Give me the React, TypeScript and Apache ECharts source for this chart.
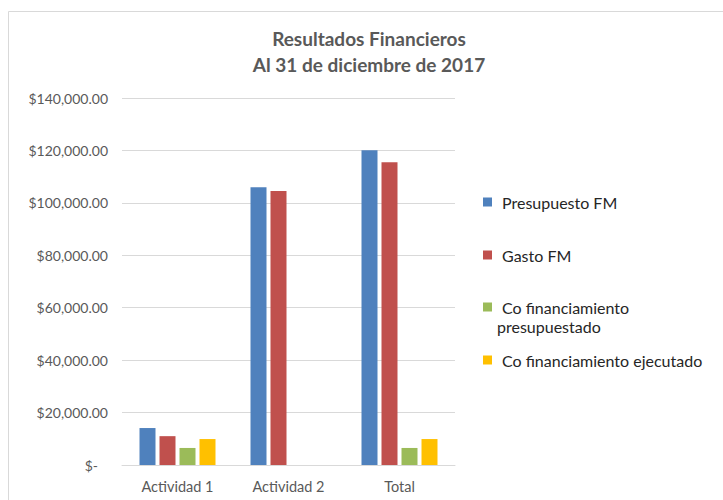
import React, { useEffect, useRef } from "react";
import * as echarts from "echarts";

const categories = ["Actividad 1", "Actividad 2", "Total"];
const seriesNames = [
  "Presupuesto FM",
  "Gasto FM",
  "Co financiamiento presupuestado",
  "Co financiamiento ejecutado",
];
const presupuestoFM = [14100, 106000, 120100];
const gastoFM = [11000, 104500, 115500];
const coPresupuestado = [6500, 0, 6500];
const coEjecutado = [9900, 0, 9900];
const colors = ["#4F81BD", "#C0504D", "#9BBB59", "#FFC000"];

const FONT = "Lato, 'Open Sans', sans-serif";

export default function App() {
  const ref = useRef<HTMLDivElement>(null);
  useEffect(() => {
    if (!ref.current) return;
    const chart = echarts.init(ref.current, undefined, { renderer: "svg" });
    const values = [presupuestoFM, gastoFM, coPresupuestado, coEjecutado];
    const legendCenters = [202, 255, 307, 360];
    const legends = seriesNames.map((n, i) => ({
      data: [n],
      orient: "vertical",
      left: 483,
      top: legendCenters[i] - 10.5,
      padding: 0,
      itemWidth: 9,
      itemHeight: 9,
      icon: "rect",
      selectedMode: false,
      formatter: (name: string) =>
        name === "Co financiamiento presupuestado" ? "Co financiamiento" : name,
      textStyle: {
        fontFamily: FONT,
        fontSize: 16,
        color: "#262626",
        lineHeight: 21,
        padding: [0, 0, 0, 5],
      },
    }));
    chart.setOption({
      animation: false,
      color: colors,
      title: {
        text: "Resultados Financieros\nAl 31 de diciembre de 2017",
        left: 369,
        top: 25,
        padding: 0,
        textAlign: "center",
        textStyle: {
          fontFamily: FONT,
          fontSize: 19,
          fontWeight: "bold",
          color: "#595959",
          lineHeight: 26,
        },
      },
      graphic: [
        {
          type: "rect",
          shape: { x: 8.5, y: 11.5, width: 800, height: 600 },
          style: { fill: "none", stroke: "#d9d9d9", lineWidth: 1 },
          silent: true,
        },
        {
          type: "text",
          left: 497,
          top: 318,
          silent: true,
          style: {
            text: "presupuestado",
            fontFamily: FONT,
            fontSize: 16,
            fill: "#262626",
          },
        },
      ],
      legend: legends,
      grid: { left: 122, right: 268, top: 98, bottom: 35, containLabel: false },
      xAxis: {
        type: "category",
        data: categories,
        axisLine: { lineStyle: { color: "#d9d9d9", width: 1 } },
        axisTick: { show: false },
        axisLabel: {
          fontFamily: FONT,
          fontSize: 14.5,
          color: "#595959",
          margin: 14,
        },
      },
      yAxis: {
        type: "value",
        min: 0,
        max: 140000,
        interval: 20000,
        axisLine: { show: false },
        axisTick: { show: false },
        splitLine: { lineStyle: { color: "#d9d9d9", width: 1 } },
        axisLabel: {
          margin: 14,
          fontFamily: FONT,
          fontSize: 14,
          color: "#595959",
          formatter: (v: number) =>
            v === 0
              ? "{z|$-}"
              : "$" +
                v.toLocaleString("en-US", {
                  minimumFractionDigits: 2,
                  maximumFractionDigits: 2,
                }),
          rich: {
            z: {
              fontFamily: FONT,
              fontSize: 14,
              color: "#595959",
              padding: [0, 10, 0, 0],
            },
          },
        },
      },
      series: seriesNames.map((n, i) => ({
        name: n,
        type: "bar",
        data: values[i],
        barWidth: 16,
        barGap: "25%",
        itemStyle: { color: colors[i] },
      })),
    });
    return () => chart.dispose();
  }, []);
  return (
    <div
      ref={ref}
      style={{ position: "fixed", left: 0, top: 0, width: 723, height: 500, background: "#fff" }}
    />
  );
}
